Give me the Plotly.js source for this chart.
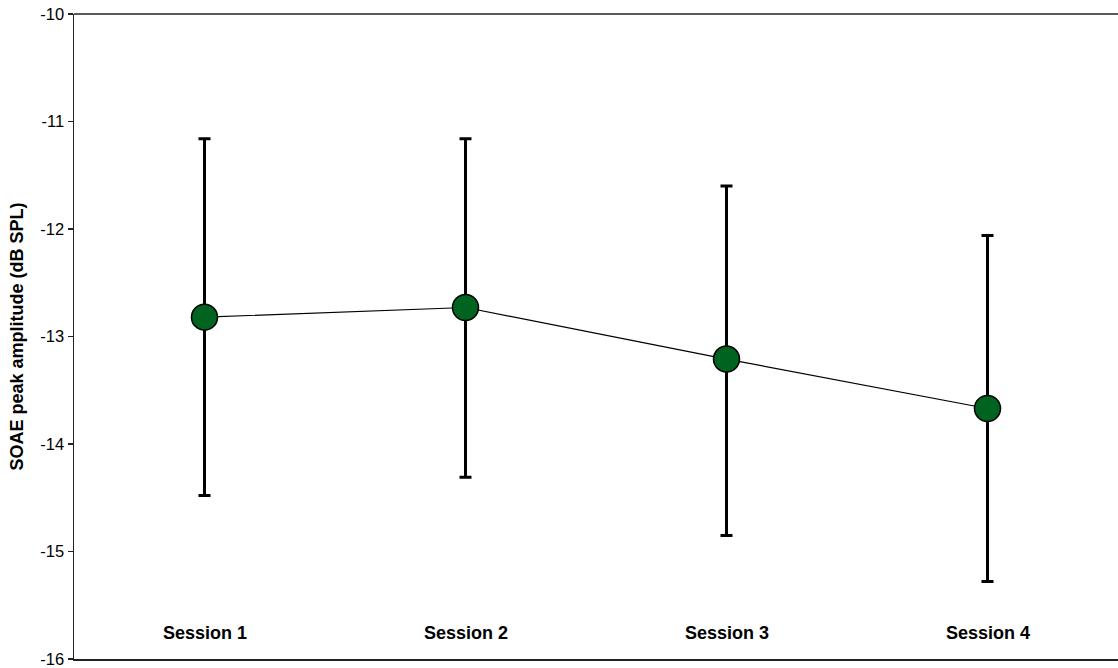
<!DOCTYPE html>
<html>
<head>
<meta charset="utf-8">
<script src="https://cdn.plot.ly/plotly-3.0.1.min.js"></script>
<style>html,body{margin:0;padding:0;background:#fff;}#chart{width:1118px;height:668px;}</style>
</head>
<body>
<div id="chart"></div>
<script>
const sessions = ["Session 1", "Session 2", "Session 3", "Session 4"];
const amplitude = [-12.82, -12.73, -13.21, -13.67];
const errUpper = [1.66, 1.57, 1.61, 1.61];
const errLower = [1.66, 1.58, 1.64, 1.61];
const yTicks = [-16, -15, -14, -13, -12, -11, -10];

const trace = {
  x: sessions,
  y: amplitude,
  type: "scatter",
  mode: "lines+markers",
  line: {color: "#000000", width: 1.2},
  marker: {size: 26, color: "#006420", line: {color: "#000000", width: 1.5}},
  error_y: {type: "data", symmetric: false, array: errUpper, arrayminus: errLower,
            color: "#000000", thickness: 3, width: 6},
  showlegend: false
};

const annotations = sessions.map(s => ({
  x: s, y: -15.76, xref: "x", yref: "y", text: s, showarrow: false,
  font: {family: "Liberation Sans, Arial, sans-serif", size: 18, color: "#000000", weight: "bold"}
}));

const layout = {
  width: 1118, height: 668,
  margin: {l: 74, r: 0, t: 14, b: 9},
  paper_bgcolor: "#ffffff", plot_bgcolor: "#ffffff",
  font: {family: "Liberation Sans, Arial, sans-serif", color: "#000000"},
  xaxis: {type: "category", range: [-0.5, 3.5], showticklabels: false, ticks: "",
          showgrid: false, zeroline: false, showline: true, linecolor: "#222222", linewidth: 1.5},
  yaxis: {range: [-16, -10], tickvals: yTicks, ticktext: yTicks.map(String),
          ticks: "outside", ticklen: 5, tickwidth: 1.5, tickcolor: "#222222",
          ticklabeloverflow: "allow",
          tickfont: {size: 16.5, color: "#000000"},
          showgrid: false, zeroline: false, showline: true, linecolor: "#222222", linewidth: 1.5,
          title: {text: "SOAE peak amplitude (dB SPL)", standoff: 12,
                  font: {size: 18, color: "#000000", weight: "bold"}}},
  shapes: [{type: "line", xref: "paper", yref: "paper", x0: 0, x1: 1, y0: 1, y1: 1,
            line: {color: "#222222", width: 1.5}}],
  annotations: annotations
};

Plotly.newPlot("chart", [trace], layout, {displayModeBar: false, staticPlot: true});
</script>
</body>
</html>
